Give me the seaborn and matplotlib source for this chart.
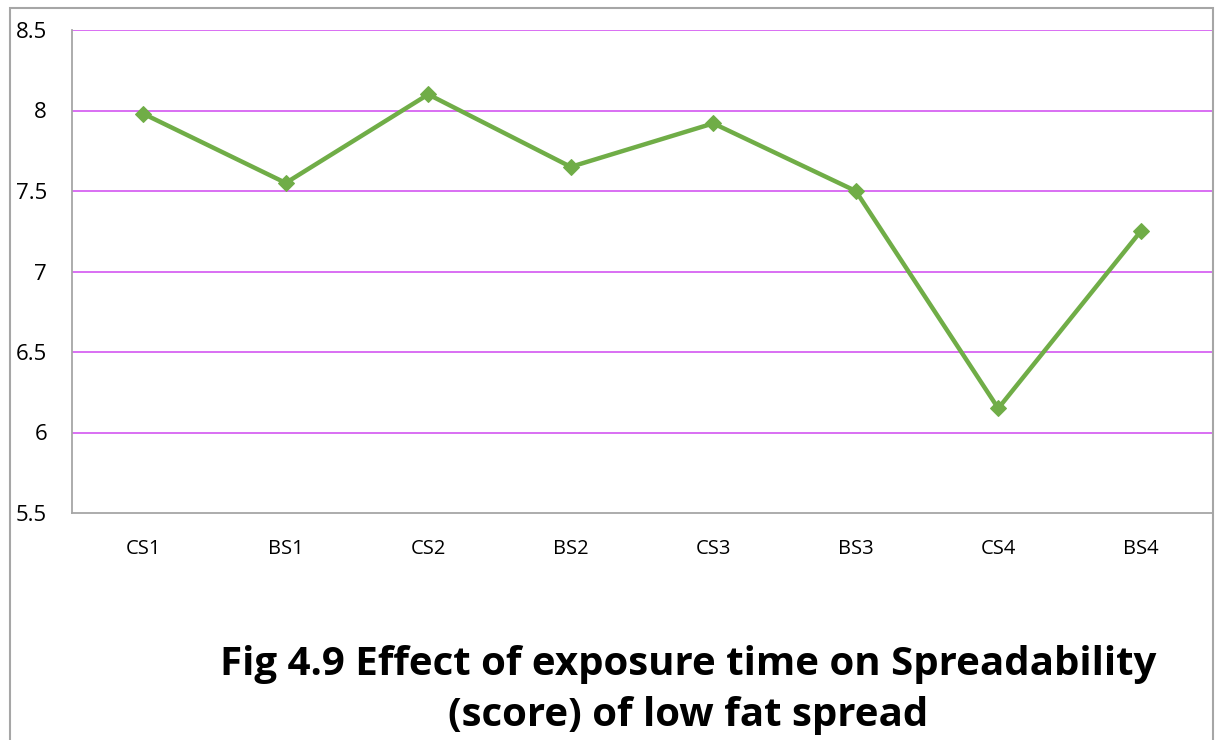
import matplotlib
matplotlib.use("Agg")
import matplotlib.pyplot as plt
from matplotlib.patches import Rectangle
import seaborn as sns
import pandas as pd

samples = ["CS1", "BS1", "CS2", "BS2", "CS3", "BS3", "CS4", "BS4"]
spreadability = [7.98, 7.55, 8.10, 7.65, 7.92, 7.50, 6.15, 7.25]
y_ticks = [5.5, 6, 6.5, 7, 7.5, 8, 8.5]
y_tick_labels = ["5.5", "6", "6.5", "7", "7.5", "8", "8.5"]
title_text = "Fig 4.9 Effect of exposure time on Spreadability\n(score) of low fat spread"

df = pd.DataFrame({"sample": samples, "score": spreadability})

sns.set_style("white")
plt.rcParams["font.family"] = ["Open Sans", "DejaVu Sans"]
plt.rcParams["text.color"] = "black"
plt.rcParams["xtick.color"] = "black"
plt.rcParams["ytick.color"] = "black"

fig = plt.figure(figsize=(12.18, 7.40), dpi=100)
ax = fig.add_axes([72 / 1218, 1 - 513 / 740, (1212 - 72) / 1218, (513 - 30) / 740])

# outer chart frame
fig.patches.append(Rectangle((10 / 1218, -0.1), (1213 - 10) / 1218, 1 - 8 / 740 + 0.1,
                             transform=fig.transFigure, fill=False,
                             edgecolor="#A6A6A6", linewidth=1.5, zorder=0))

for yv in y_ticks[1:]:
    ax.axhline(yv, color="#D763F2", linewidth=1.3, zorder=1)

sns.lineplot(data=df, x="sample", y="score", ax=ax, color="#70AD47",
             linewidth=3.2, marker="D", markersize=8, markeredgecolor="#70AD47",
             sort=False, zorder=3)

ax.set_xlim(-0.5, len(samples) - 0.5)
ax.set_ylim(5.5, 8.5)
ax.set_yticks(y_ticks)
ax.set_yticklabels(y_tick_labels)
ax.set_xlabel("")
ax.set_ylabel("")
ax.tick_params(axis="y", length=0, pad=18, labelsize=16)
ax.tick_params(axis="x", length=0, pad=19, labelsize=14.5)

for side in ("top", "right"):
    ax.spines[side].set_visible(False)
for side in ("left", "bottom"):
    ax.spines[side].set_color("#A6A6A6")
    ax.spines[side].set_linewidth(1.3)

fig.text(0.565, 0.067, title_text, ha="center", va="center",
         fontsize=29, fontweight="bold", linespacing=1.4, color="black")

fig.savefig("out.png", dpi=100)
